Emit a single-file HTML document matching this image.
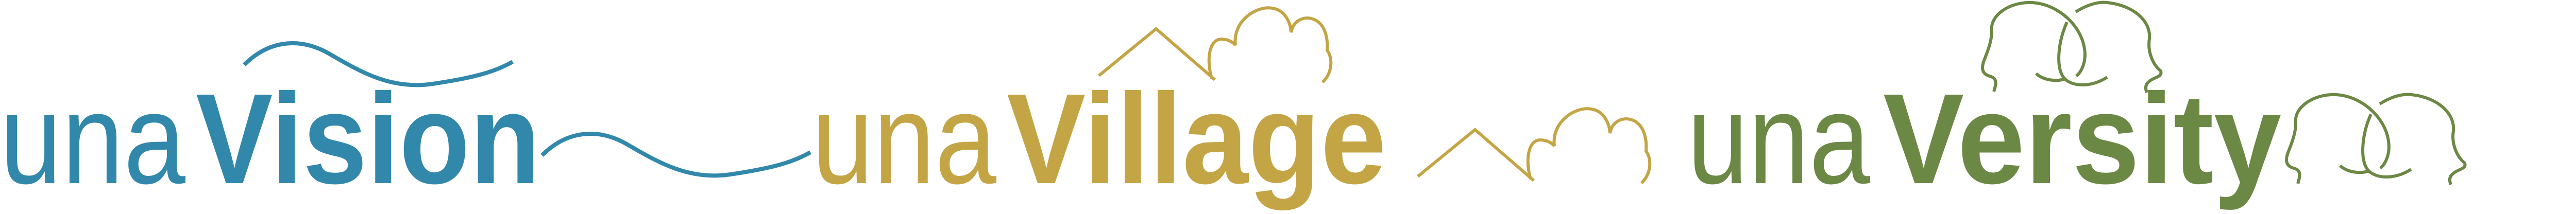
<!DOCTYPE html>
<html>
<head>
<meta charset="utf-8">
<style>
  html,body{margin:0;padding:0;background:#ffffff;}
  body{width:5050px;height:416px;overflow:hidden;}
  svg{display:block;}
  text{font-family:"Liberation Sans", sans-serif;}
</style>
</head>
<body>
<svg width="5050" height="416" viewBox="0 0 5050 416" xmlns="http://www.w3.org/2000/svg">
  <!-- unaVision -->
  <g fill="#3288aa">
    <text x="0" y="356" font-size="250" textLength="360" lengthAdjust="spacingAndGlyphs">una</text>
    <text x="380" y="356" font-size="250" font-weight="bold" textLength="669" lengthAdjust="spacingAndGlyphs">Vision</text>
    <path d="M474,126 C520,80 580,70 640,105 S760,175 840,163 S960,140 995,120" fill="none" stroke="#3288aa" stroke-width="8"/>
    <path transform="translate(578,176)" d="M474,126 C520,80 580,70 640,105 S760,175 840,163 S960,140 995,120" fill="none" stroke="#3288aa" stroke-width="8"/>
  </g>

  <!-- unaVillage -->
  <g fill="#c4a545">
    <text x="1576" y="356" font-size="250" textLength="358" lengthAdjust="spacingAndGlyphs">una</text>
    <text x="1954" y="356" font-size="250" font-weight="bold" textLength="737" lengthAdjust="spacingAndGlyphs">Village</text>
    <g fill="none" stroke="#c4a545" stroke-width="6">
      <polyline points="2133,147 2244,56 2358,155"/>
      <path d="M2352,152 C2342,120 2345,75 2372,76 C2388,77 2396,85 2398,88 C2392,40 2440,10 2470,16 C2495,20 2505,45 2506,63 C2510,40 2530,32 2545,36 C2570,42 2578,70 2576,98 C2586,110 2588,140 2567,160"/>
    </g>
    <g transform="translate(619,196)" fill="none" stroke="#c4a545" stroke-width="6">
      <polyline points="2133,147 2244,56 2358,155"/>
      <path d="M2352,152 C2342,120 2345,75 2372,76 C2388,77 2396,85 2398,88 C2392,40 2440,10 2470,16 C2495,20 2505,45 2506,63 C2510,40 2530,32 2545,36 C2570,42 2578,70 2576,98 C2586,110 2588,140 2567,160"/>
    </g>
  </g>

  <!-- unaVersity -->
  <g fill="#6b8844">
    <text x="3275" y="356" font-size="250" textLength="355" lengthAdjust="spacingAndGlyphs">una</text>
    <text x="3655" y="356" font-size="250" font-weight="bold" textLength="773" lengthAdjust="spacingAndGlyphs">Versity</text>
    <g fill="none" stroke="#6b8844" stroke-width="6">
      <path d="M3870,178 C3874,165 3878,152 3862,148 C3845,143 3846,130 3852,115 C3862,90 3866,75 3866,60 C3862,30 3900,3 3945,5 C3995,8 4040,50 4046,95 C4050,120 4040,140 4030,148"/>
      <path d="M3952,143 C3965,155 3990,160 4009,153"/>
      <path d="M4029,23 C4050,10 4070,3 4090,5 C4140,10 4175,40 4172,75 C4168,100 4178,125 4194,138 C4198,150 4180,150 4172,158 C4162,165 4165,175 4167,180"/>
      <path d="M4012,43 C3995,80 3990,130 4005,150 C4020,170 4060,170 4090,150"/>
    </g>
    <g transform="translate(590,179)" fill="none" stroke="#6b8844" stroke-width="6">
      <path d="M3870,178 C3874,165 3878,152 3862,148 C3845,143 3846,130 3852,115 C3862,90 3866,75 3866,60 C3862,30 3900,3 3945,5 C3995,8 4040,50 4046,95 C4050,120 4040,140 4030,148"/>
      <path d="M3952,143 C3965,155 3990,160 4009,153"/>
      <path d="M4029,23 C4050,10 4070,3 4090,5 C4140,10 4175,40 4172,75 C4168,100 4178,125 4194,138 C4198,150 4180,150 4172,158 C4162,165 4165,175 4167,180"/>
      <path d="M4012,43 C3995,80 3990,130 4005,150 C4020,170 4060,170 4090,150"/>
    </g>
  </g>
</svg>
</body>
</html>
